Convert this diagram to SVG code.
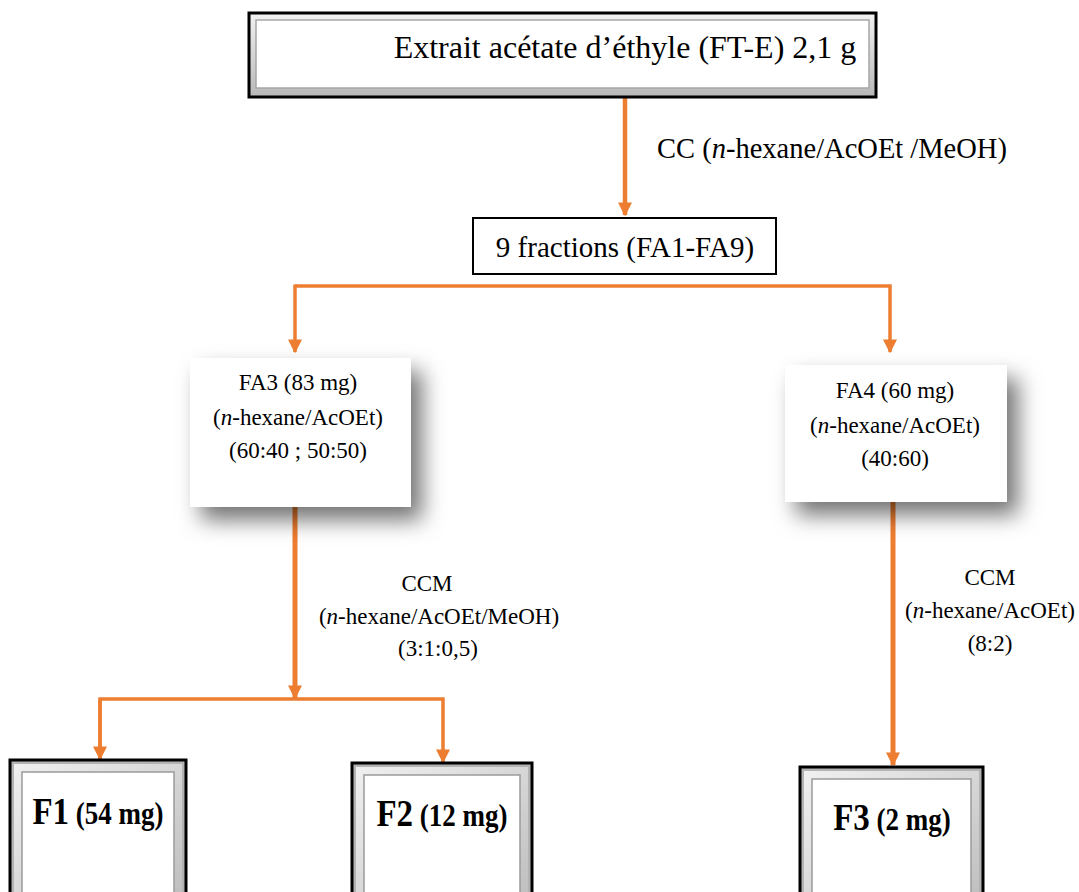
<svg xmlns="http://www.w3.org/2000/svg" width="1079" height="892" viewBox="0 0 1079 892">
<style>
.t{font-family:"Liberation Serif","Times New Roman",serif;fill:#000;text-anchor:middle}
.c{stroke:#ED7D31;fill:none}
.bev{fill:#b3b3b3;stroke:#000;stroke-width:3}
.bev2{fill:url(#gb);stroke:none}
.inner{fill:#fff;stroke:#9a9a9a;stroke-width:1.5}
</style>
<defs>
<filter id="sh" x="-30%" y="-30%" width="170%" height="170%">
<feDropShadow dx="11" dy="13" stdDeviation="11" flood-color="#000" flood-opacity="0.55"/>
</filter>
<marker id="ah" viewBox="0 0 10 10" refX="9" refY="5" markerWidth="14" markerHeight="14" orient="auto" markerUnits="userSpaceOnUse">
<path d="M0,0 L10,5 L0,10 Z" fill="#ED7D31"/>
</marker>
<linearGradient id="gv" x1="0" y1="0" x2="0" y2="1"><stop offset="0" stop-color="#f2f2f2"/><stop offset="1" stop-color="#b8b8b8"/></linearGradient>
<linearGradient id="gb" x1="0" y1="0" x2="1" y2="1"><stop offset="0" stop-color="#f0f0f0"/><stop offset="1" stop-color="#bdbdbd"/></linearGradient>
</defs>
<g id="connectors">
<line class="c" x1="625" y1="97" x2="625" y2="215" stroke-width="4.5" marker-end="url(#ah)"/>
<polyline class="c" points="295,286 890,286 890,352" stroke-width="3.5" marker-end="url(#ah)"/>
<line class="c" x1="295" y1="284.5" x2="295" y2="352" stroke-width="3.5" marker-end="url(#ah)"/>
<line class="c" x1="295" y1="507" x2="295" y2="698" stroke-width="5" marker-end="url(#ah)"/>
<polyline class="c" points="100,759 100,699 443,699 443,762" stroke-width="3.5" marker-end="url(#ah)"/>
<line class="c" x1="100" y1="700" x2="100" y2="759" stroke-width="3.5" marker-end="url(#ah)"/>
<line class="c" x1="893" y1="502" x2="893" y2="765" stroke-width="5" marker-end="url(#ah)"/>
</g>
<g id="top">
<rect x="249" y="13" width="627" height="84" fill="url(#gv)" stroke="#000" stroke-width="3"/>
<rect x="256" y="20" width="613" height="68" fill="#fff" stroke="#a6a6a6" stroke-width="1.5"/>
<text class="t" x="625" y="58" font-size="32">Extrait acétate d’éthyle (FT-E) 2,1 g</text>
</g>
<text class="t" x="832" y="158" font-size="28.5">CC (<tspan font-style="italic">n</tspan>-hexane/AcOEt /MeOH)</text>
<g id="frac">
<rect x="473" y="218" width="303" height="56" fill="#fff" stroke="#000" stroke-width="2"/>
<text class="t" x="625" y="257" font-size="29">9 fractions (FA1-FA9)</text>
</g>
<g id="FA3">
<rect x="190" y="358" width="221" height="149" fill="#fff" filter="url(#sh)"/>
<text class="t" x="298" y="390" font-size="23">FA3 (83 mg)</text>
<text class="t" x="298" y="425" font-size="23">(<tspan font-style="italic">n</tspan>-hexane/AcOEt)</text>
<text class="t" x="298" y="458" font-size="23">(60:40 ; 50:50)</text>
</g>
<g id="FA4">
<rect x="785" y="365" width="222" height="137" fill="#fff" filter="url(#sh)"/>
<text class="t" x="895" y="398" font-size="23">FA4 (60 mg)</text>
<text class="t" x="895" y="433" font-size="23">(<tspan font-style="italic">n</tspan>-hexane/AcOEt)</text>
<text class="t" x="895" y="466" font-size="23">(40:60)</text>
</g>
<text class="t" x="427" y="591" font-size="23">CCM</text>
<text class="t" x="439" y="624" font-size="23">(<tspan font-style="italic">n</tspan>-hexane/AcOEt/MeOH)</text>
<text class="t" x="438" y="656" font-size="23">(3:1:0,5)</text>
<text class="t" x="990" y="585" font-size="23">CCM</text>
<text class="t" x="990" y="618" font-size="23">(<tspan font-style="italic">n</tspan>-hexane/AcOEt)</text>
<text class="t" x="990" y="651" font-size="23">(8:2)</text>
<g id="F1">
<rect x="10" y="760" width="176" height="145" class="bev"/>
<rect x="14" y="764" width="168" height="141" class="bev2"/>
<rect x="22" y="772" width="152" height="133" class="inner"/>
<text class="t" transform="translate(98,824) scale(1,1.15)" font-weight="bold" font-size="27"><tspan font-size="33">F1</tspan> (54 mg)</text>
</g>
<g id="F2">
<rect x="352" y="763" width="180" height="145" class="bev"/>
<rect x="356" y="767" width="172" height="141" class="bev2"/>
<rect x="364" y="775" width="156" height="133" class="inner"/>
<text class="t" transform="translate(442,826) scale(1,1.15)" font-weight="bold" font-size="27"><tspan font-size="33">F2</tspan> (12 mg)</text>
</g>
<g id="F3">
<rect x="800" y="767" width="183" height="145" class="bev"/>
<rect x="804" y="771" width="175" height="141" class="bev2"/>
<rect x="812" y="779" width="159" height="133" class="inner"/>
<text class="t" transform="translate(892,830) scale(1,1.15)" font-weight="bold" font-size="27"><tspan font-size="33">F3</tspan> (2 mg)</text>
</g>
</svg>
